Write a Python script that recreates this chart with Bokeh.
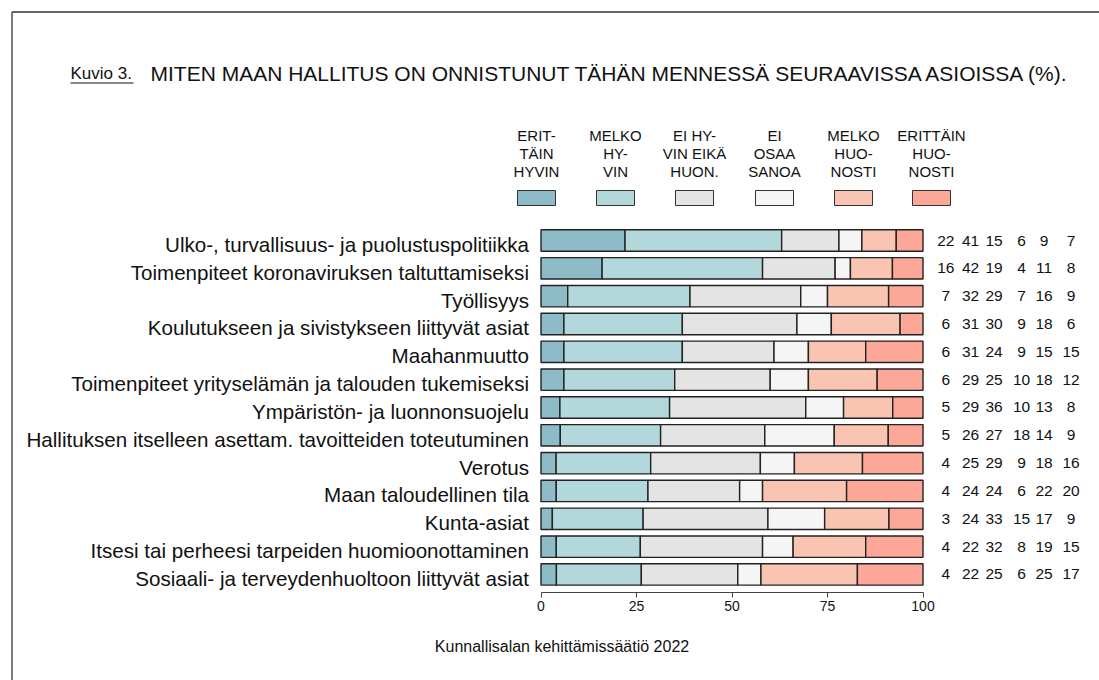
from bokeh.plotting import figure
from bokeh.models import ColumnDataSource, LinearAxis, FixedTicker, Range1d
from bokeh.core.properties import value
from bokeh.embed import file_html
from bokeh.resources import INLINE

# ---------------- data ----------------
categories = [
    "Ulko-, turvallisuus- ja puolustuspolitiikka",
    "Toimenpiteet koronaviruksen taltuttamiseksi",
    "Työllisyys",
    "Koulutukseen ja sivistykseen liittyvät asiat",
    "Maahanmuutto",
    "Toimenpiteet yrityselämän ja talouden tukemiseksi",
    "Ympäristön- ja luonnonsuojelu",
    "Hallituksen itselleen asettam. tavoitteiden toteutuminen",
    "Verotus",
    "Maan taloudellinen tila",
    "Kunta-asiat",
    "Itsesi tai perheesi tarpeiden huomioonottaminen",
    "Sosiaali- ja terveydenhuoltoon liittyvät asiat",
]
erittain_hyvin = [22, 16, 7, 6, 6, 6, 5, 5, 4, 4, 3, 4, 4]
melko_hyvin = [41, 42, 32, 31, 31, 29, 29, 26, 25, 24, 24, 22, 22]
ei_hyvin_eika_huonosti = [15, 19, 29, 30, 24, 25, 36, 27, 29, 24, 33, 32, 25]
ei_osaa_sanoa = [6, 4, 7, 9, 9, 10, 10, 18, 9, 6, 15, 8, 6]
melko_huonosti = [9, 11, 16, 18, 15, 18, 13, 14, 18, 22, 17, 19, 25]
erittain_huonosti = [7, 8, 9, 6, 15, 12, 8, 9, 16, 20, 9, 15, 17]

legend_labels = [
    ["ERIT-", "TÄIN", "HYVIN"],
    ["MELKO", "HY-", "VIN"],
    ["EI HY-", "VIN EIKÄ", "HUON."],
    ["EI", "OSAA", "SANOA"],
    ["MELKO", "HUO-", "NOSTI"],
    ["ERITTÄIN", "HUO-", "NOSTI"],
]
x_ticks = [0, 25, 50, 75, 100]
title_prefix = "Kuvio 3."
title_text = "MITEN MAAN HALLITUS ON ONNISTUNUT TÄHÄN MENNESSÄ SEURAAVISSA ASIOISSA (%)."
footer_text = "Kunnallisalan kehittämissäätiö 2022"

colors = ["#8dbbc7", "#b3d8db", "#e4e4e4", "#f5f5f5", "#f9c4b1", "#fca797"]

series = [erittain_hyvin, melko_hyvin, ei_hyvin_eika_huonosti,
          ei_osaa_sanoa, melko_huonosti, erittain_huonosti]

# ---------------- layout helpers (page pixels -> data) ----------------
ORIGIN = 0                  # page offset of the canvas
W, H = 1099, 680
PX0, PXU = 540.5, 3.82      # page x of value 0, pixels per percent
PY0, PYU = 240.0, 27.83     # page y of first row, pixels per row
N = len(categories)


def dx(px):
    return (px - PX0) / PXU


def dy(py):
    return (N - 1) - (py - PY0) / PYU


FONT = value("Liberation Sans")

p = figure(width=W, height=H, output_backend="svg", toolbar_location=None,
           x_range=Range1d(dx(ORIGIN), dx(ORIGIN + W)),
           y_range=Range1d(dy(ORIGIN + H), dy(ORIGIN)),
           x_axis_type=None, y_axis_type=None, min_border=0,
           min_border_left=0, min_border_right=0, min_border_top=0, min_border_bottom=0)
p.outline_line_color = None
p.background_fill_color = "white"
p.border_fill_color = "white"

# ---------------- bars ----------------
rows_y = [N - 1 - i for i in range(N)]
lefts, rights, ys, cols = [], [], [], []
for i in range(N):
    vals = [s[i] for s in series]
    tot = float(sum(vals))
    cum = 0.0
    for j, v in enumerate(vals):
        lefts.append(cum * 100.0 / tot)
        cum += v
        rights.append(cum * 100.0 / tot)
        ys.append(rows_y[i])
        cols.append(colors[j])
bar_src = ColumnDataSource(dict(left=lefts, right=rights, y=ys, color=cols))
p.hbar(y="y", left="left", right="right", height=21.4 / PYU, source=bar_src,
       fill_color="color", line_color="#222222", line_width=1.4)

# ---------------- numbers on the right ----------------
NUM_PX = [945.3, 970.0, 993.5, 1021.0, 1043.5, 1070.5]
nx, ny, nt = [], [], []
for i in range(N):
    for j, s in enumerate(series):
        nx.append(dx(NUM_PX[j]))
        ny.append(rows_y[i])
        nt.append(str(s[i]))
p.text(x=nx, y=ny, text=nt, text_font=FONT, text_font_size="15.5px",
       text_align="center", text_baseline="middle", text_color="#111111")

# ---------------- axes ----------------
xaxis = LinearAxis(fixed_location=dy(591.7), ticker=FixedTicker(ticks=x_ticks), bounds=(0, 100))
xaxis.major_tick_in = 0
xaxis.major_tick_out = 5
xaxis.minor_tick_line_color = None
xaxis.axis_line_color = "#444444"
xaxis.major_tick_line_color = "#444444"
xaxis.major_label_text_font = "Liberation Sans"
xaxis.major_label_text_font_size = "14px"
xaxis.major_label_text_color = "#111111"
xaxis.major_label_standoff = 4
p.add_layout(xaxis, "below")

# category labels sit ~4px below the bar centres in the reference
label_ticks = [y - 4.0 / PYU for y in rows_y]
yaxis = LinearAxis(fixed_location=0, ticker=FixedTicker(ticks=label_ticks),
                   major_label_overrides={label_ticks[i]: categories[i] for i in range(N)})
yaxis.axis_line_color = None
yaxis.major_tick_line_color = None
yaxis.minor_tick_line_color = None
yaxis.major_tick_in = 0
yaxis.major_tick_out = 0
yaxis.major_label_standoff = 12
yaxis.major_label_text_font = "Liberation Sans"
yaxis.major_label_text_font_size = "20.6px"
yaxis.major_label_text_color = "#111111"
p.add_layout(yaxis, "left")

# ---------------- legend ----------------
LEG_PX = [536, 615, 694, 774, 853, 931]
lx, ly, lt = [], [], []
for j, lines in enumerate(legend_labels):
    for k, line in enumerate(lines):
        lx.append(dx(LEG_PX[j]))
        ly.append(dy(134.5 + 18.3 * k))
        lt.append(line)
p.text(x=lx, y=ly, text=lt, text_font=FONT, text_font_size="15px",
       text_align="center", text_baseline="middle", text_color="#111111")
p.rect(x=[dx(c) for c in LEG_PX], y=[dy(197.5)] * len(LEG_PX), width=38, height=15,
       width_units="screen", height_units="screen", fill_color=colors,
       line_color="#333333", line_width=1)

# ---------------- titles ----------------
p.text(x=[dx(70)], y=[dy(73)], text=[title_prefix], text_font=FONT, text_font_size="17px",
       text_align="left", text_baseline="middle", text_color="#111111")
p.segment(x0=[dx(70)], y0=[dy(82.5)], x1=[dx(133)], y1=[dy(82.5)], line_color="#111111", line_width=1)
p.text(x=[dx(150)], y=[dy(73)], text=[title_text], text_font=FONT, text_font_size="21px",
       text_align="left", text_baseline="middle", text_color="#111111")
p.text(x=[dx(561.5)], y=[dy(646)], text=[footer_text], text_font=FONT, text_font_size="16px",
       text_align="center", text_baseline="middle", text_color="#111111")

# ---------------- frame border (left and top) ----------------
p.segment(x0=[dx(11.5), dx(11.5)], y0=[dy(11.5), dy(11.5)],
          x1=[dx(11.5), dx(ORIGIN + W)], y1=[dy(ORIGIN + H), dy(11.5)],
          line_color="#333333", line_width=1.3)

open("out.html", "w").write(file_html(p, INLINE))
